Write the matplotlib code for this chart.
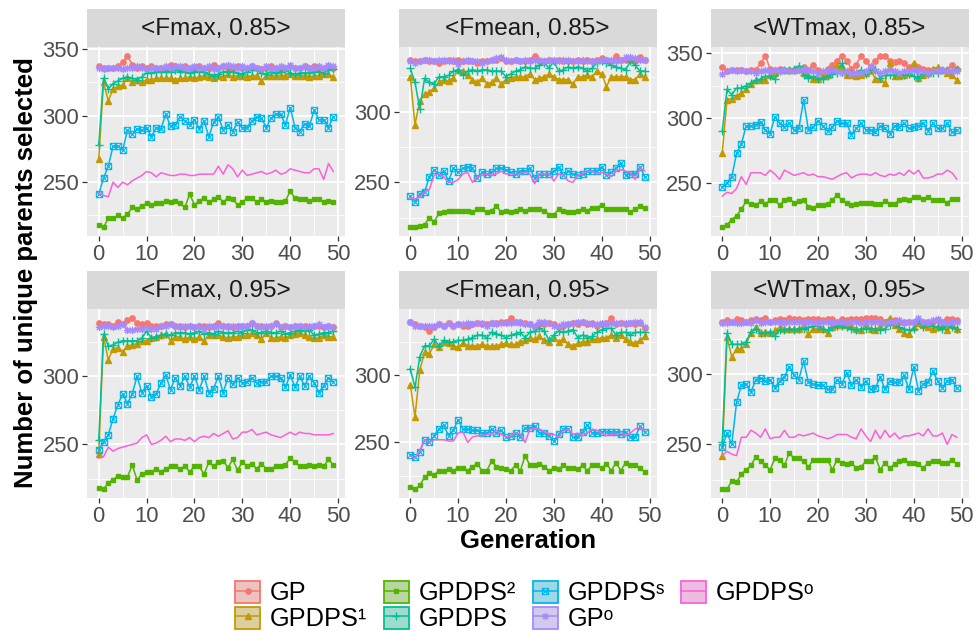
"""
plot.py
Unique parents selected per generation, six <rule, rate> settings.
"""

import numpy as np
import matplotlib
matplotlib.use('Agg')
import matplotlib.pyplot as plt
from matplotlib.path import Path
from matplotlib.patches import Patch
from matplotlib.lines import Line2D
from matplotlib.ticker import MultipleLocator
from matplotlib.colors import to_rgb

plt.rcParams['font.family'] = ['Liberation Sans', 'DejaVu Sans']

METHODS = ['GP', 'GPDPS¹', 'GPDPS²', 'GPDPS', 'GPDPSˢ', 'GPᵒ', 'GPDPSᵒ']
PANEL_TITLES = ['<Fmax, 0.85>', '<Fmean, 0.85>', '<WTmax, 0.85>',
                '<Fmax, 0.95>', '<Fmean, 0.95>', '<WTmax, 0.95>']

# ── <Fmax, 0.85> ─────────────────────────────────────────────────────────────
fmax85_gp = [337,336,336,336,337,340,345,338,336,337,336,337,336,336,336,338,337,336,337,336,336,337,336,336,338,336,337,336,336,337,336,336,337,336,335,336,337,336,336,336,337,336,336,337,336,337,336,336,337,336]
fmax85_dps1 = [267,325,311,320,322,323,328,325,327,325,327,327,328,328,328,328,327,328,328,329,328,329,330,329,328,330,329,331,329,330,330,329,330,330,326,330,330,330,330,330,331,330,330,330,329,330,330,331,331,329]
fmax85_dps2 = [218,216,223,223,225,223,226,231,230,232,234,233,234,234,236,235,236,234,231,241,233,236,238,235,237,239,235,238,237,233,235,238,238,235,237,235,236,235,235,236,243,238,237,237,236,237,237,235,236,235]
fmax85_dps = [278,328,320,324,326,328,329,328,327,329,332,332,333,333,333,333,334,333,333,332,333,333,333,331,330,331,333,333,333,332,331,333,334,334,332,331,333,332,333,334,332,331,332,332,332,333,333,332,334,335]
fmax85_dpss = [241,253,262,277,277,274,289,286,290,289,291,284,291,290,301,292,293,299,296,293,297,290,296,284,295,299,289,293,288,295,291,291,296,299,298,291,298,301,301,293,306,291,288,294,292,304,297,297,291,299]
fmax85_gpo = [336,335,336,336,336,335,336,336,337,336,335,336,336,336,337,336,337,337,336,336,337,336,336,337,335,336,337,338,337,336,337,336,337,336,335,337,336,336,337,336,338,336,336,337,336,336,337,336,338,337]
fmax85_dpso = [242,240,239,250,246,250,248,251,253,255,258,257,254,257,256,255,255,256,256,255,255,256,256,256,256,262,256,263,260,254,259,255,256,257,258,256,257,259,256,257,260,259,258,257,257,260,260,252,264,258]

# ── <Fmean, 0.85> ────────────────────────────────────────────────────────────
fmean85_gp = [337,336,336,337,336,336,335,336,337,336,337,336,336,336,335,336,336,337,337,338,336,336,337,336,336,337,340,336,336,337,336,337,336,336,336,337,336,337,336,337,338,337,336,340,337,337,337,336,339,337]
fmean85_dps1 = [325,291,308,313,314,317,321,323,322,324,330,329,326,323,321,324,320,321,324,320,323,324,325,325,325,327,323,324,325,327,325,323,323,323,320,325,325,326,325,329,327,318,325,325,325,325,323,323,327,325]
fmean85_dps2 = [218,218,219,220,225,222,228,229,230,230,230,230,230,229,231,231,229,230,233,229,230,229,230,231,230,231,231,231,230,227,227,231,230,229,229,230,231,230,232,232,234,231,231,231,231,231,229,231,233,232]
fmean85_dps = [331,321,302,324,321,320,325,325,326,329,330,326,329,330,329,330,330,329,329,329,325,327,329,330,332,331,331,333,335,331,336,329,330,332,331,332,331,329,331,335,336,335,333,332,331,330,336,333,329,329]
fmean85_dpss = [240,236,242,243,254,259,255,258,251,260,257,260,261,260,253,257,256,257,260,260,259,257,256,258,258,260,253,256,256,256,258,261,255,258,256,255,256,258,258,258,261,255,257,260,264,255,256,256,261,254]
fmean85_gpo = [336,335,336,337,337,336,337,337,336,337,334,336,337,336,336,335,336,337,338,339,337,336,337,336,337,336,337,337,336,337,337,336,337,337,336,336,337,336,336,336,337,337,337,336,337,339,339,338,337,337]
fmean85_dpso = [239,238,240,243,245,255,256,254,250,250,252,256,257,250,254,255,256,255,256,258,256,256,256,256,257,256,249,256,256,256,251,256,255,251,250,255,256,258,258,256,257,256,254,258,259,258,257,252,260,258]

# ── <WTmax, 0.85> ────────────────────────────────────────────────────────────
wtmax85_gp = [339,336,337,337,337,336,337,337,342,348,338,337,338,337,337,337,337,339,337,341,337,335,338,341,344,348,344,338,341,348,344,339,344,348,348,344,343,344,342,339,341,339,338,337,337,337,337,337,341,338]
wtmax85_dps1 = [273,314,315,317,319,322,326,329,329,329,333,335,337,337,337,337,338,335,333,330,330,332,333,337,341,339,333,333,332,333,335,337,330,330,327,342,332,332,333,335,342,331,333,335,338,339,337,335,333,329]
wtmax85_dps2 = [216,218,222,225,230,236,234,233,236,234,237,237,233,237,238,235,236,237,232,231,233,233,234,237,241,237,235,233,234,235,235,235,234,234,236,234,234,237,238,237,239,239,238,239,237,237,237,235,238,238]
wtmax85_dps = [290,322,318,323,323,325,327,329,330,332,332,330,336,337,337,338,340,333,331,332,330,330,332,334,335,342,335,335,335,337,334,337,338,331,333,333,333,334,333,334,332,331,334,334,335,335,337,337,336,338]
wtmax85_dpss = [247,250,255,273,280,294,294,295,297,291,288,301,296,293,296,291,292,314,291,293,298,294,290,293,298,296,296,287,292,296,291,291,289,294,292,288,294,293,296,292,293,294,296,290,296,292,292,296,289,291]
wtmax85_gpo = [334,336,337,336,337,336,336,335,336,337,336,337,336,337,336,336,337,337,337,336,335,336,336,337,336,335,336,334,335,335,336,340,336,335,336,337,336,335,336,336,337,336,336,335,336,336,337,336,336,336]
wtmax85_dpso = [240,243,242,246,255,249,258,258,258,256,260,257,253,260,258,256,257,258,256,257,255,255,254,253,255,257,258,254,256,257,257,256,258,256,255,257,256,258,256,260,257,260,254,254,255,257,257,260,258,253]

# ── <Fmax, 0.95> ─────────────────────────────────────────────────────────────
fmax95_gp = [339,338,338,337,340,338,341,343,339,338,339,337,337,337,338,338,337,337,336,337,336,337,337,336,337,339,337,337,336,337,337,337,339,337,337,336,337,339,336,337,336,337,337,337,336,337,337,336,337,336]
fmax95_dps1 = [243,329,312,320,321,318,322,323,324,326,326,328,329,330,331,326,329,329,327,329,327,329,326,330,330,330,329,328,329,329,330,330,332,330,327,332,328,328,329,328,330,331,332,330,329,328,328,330,329,329]
fmax95_dps2 = [218,217,222,224,227,226,226,235,224,228,230,230,232,230,232,234,234,232,234,230,234,234,228,237,234,237,238,233,239,231,237,234,236,232,236,232,232,234,234,235,240,237,234,234,235,234,235,234,239,235]
fmax95_dps = [253,331,322,323,325,326,326,326,326,328,333,328,329,330,331,330,332,332,332,331,332,333,331,332,331,333,332,332,332,333,332,334,334,332,332,333,332,332,333,331,332,333,334,333,334,330,331,332,332,333]
fmax95_dpss = [246,252,257,269,279,287,280,287,300,288,293,285,287,295,301,290,299,293,300,292,300,290,300,288,291,300,288,299,294,299,295,296,299,295,296,296,300,300,299,292,301,292,300,293,300,295,288,293,299,296]
fmax95_gpo = [336,337,337,336,337,338,334,334,335,335,336,335,335,337,337,338,337,336,337,337,336,337,335,337,336,337,337,336,337,336,337,337,339,337,336,337,337,338,336,337,336,337,337,336,337,337,338,336,337,336]
fmax95_dpso = [240,241,248,245,247,248,249,250,251,255,257,250,251,253,256,252,254,254,253,255,252,255,256,255,258,256,258,260,254,255,259,259,261,257,258,259,257,256,255,257,259,257,259,258,258,257,257,257,257,258]

# ── <Fmean, 0.95> ────────────────────────────────────────────────────────────
fmean95_gp = [340,338,337,336,333,336,338,337,339,337,338,337,337,338,339,338,338,339,339,340,340,343,340,340,339,338,336,338,338,339,338,336,337,338,339,338,340,338,339,337,338,339,343,338,339,338,339,338,339,335]
fmean95_dps1 = [293,269,304,317,316,323,321,325,324,322,321,324,322,322,322,323,322,322,322,323,324,323,323,325,326,328,327,329,326,325,328,325,327,323,322,324,325,325,327,327,328,328,330,328,330,327,325,324,326,329]
fmean95_dps2 = [217,215,218,224,227,226,229,229,230,229,231,231,229,232,234,229,229,236,232,231,230,229,233,229,240,233,233,234,232,229,231,230,233,231,231,230,233,229,233,233,231,234,229,235,229,235,233,233,231,228]
fmean95_dps = [305,291,314,322,322,327,322,326,325,325,326,326,327,328,330,330,328,332,331,330,328,330,331,332,328,332,333,335,333,326,330,333,332,333,334,328,330,328,329,332,334,335,335,330,332,332,330,332,332,332]
fmean95_dpss = [241,239,243,252,250,255,260,263,255,259,267,260,260,259,259,257,257,260,257,259,254,255,257,254,261,261,262,257,257,255,251,256,260,260,254,254,258,263,257,257,258,258,258,258,256,258,254,254,262,258]
fmean95_gpo = [340,337,337,337,337,337,338,337,339,337,338,338,339,338,339,339,337,339,338,339,339,339,340,339,338,338,337,340,340,339,337,337,338,338,339,340,340,339,338,338,339,338,339,339,339,339,339,340,340,336]
fmean95_dpso = [240,238,244,252,250,252,252,252,251,251,257,258,250,254,255,255,256,256,259,256,254,255,257,256,250,260,260,260,258,256,256,254,259,260,256,257,255,257,260,259,257,255,256,256,257,255,257,260,261,259]

# ── <WTmax, 0.95> ────────────────────────────────────────────────────────────
wtmax95_gp = [337,338,337,339,338,337,338,339,338,340,337,338,339,338,340,339,339,338,339,339,339,338,339,339,337,339,338,339,339,339,340,340,340,339,337,337,338,337,337,337,337,337,337,337,337,338,337,339,339,338]
wtmax95_dps1 = [242,326,312,318,318,321,329,333,329,330,329,331,333,332,332,332,332,334,328,332,332,332,329,333,335,335,335,334,332,331,335,332,331,334,337,340,335,332,329,328,333,336,335,333,332,333,334,331,335,332]
wtmax95_dps2 = [218,218,224,223,229,232,235,241,238,235,232,240,239,235,244,240,240,238,234,239,239,239,239,232,239,237,236,237,233,234,238,238,241,232,237,233,236,238,239,237,237,236,233,237,238,238,237,237,239,236]
wtmax95_dps = [252,329,321,321,321,323,330,332,329,329,330,327,331,331,332,331,332,332,333,334,334,332,331,333,334,334,333,332,331,332,332,332,332,331,332,335,336,333,332,331,332,338,333,336,334,333,332,334,333,332]
wtmax95_dpss = [248,258,250,280,292,293,287,296,297,295,296,290,295,298,305,299,296,309,294,293,292,292,289,289,296,293,301,292,296,291,295,289,290,298,289,295,294,294,299,289,305,288,293,294,302,295,290,295,296,290]
wtmax95_gpo = [336,336,337,336,336,337,336,338,336,337,337,337,337,336,337,337,337,336,337,337,336,337,337,336,337,337,336,337,337,336,337,337,337,337,336,337,337,338,336,337,337,340,337,337,338,339,337,336,337,337]
wtmax95_dpso = [242,245,243,242,255,255,260,258,255,261,254,255,255,260,255,255,257,256,257,258,256,255,254,255,257,257,257,255,254,261,256,252,260,254,260,255,258,254,256,256,257,258,256,261,256,256,258,250,257,255]

PANELS = [
    [fmax85_gp, fmax85_dps1, fmax85_dps2, fmax85_dps, fmax85_dpss, fmax85_gpo, fmax85_dpso],
    [fmean85_gp, fmean85_dps1, fmean85_dps2, fmean85_dps, fmean85_dpss, fmean85_gpo, fmean85_dpso],
    [wtmax85_gp, wtmax85_dps1, wtmax85_dps2, wtmax85_dps, wtmax85_dpss, wtmax85_gpo, wtmax85_dpso],
    [fmax95_gp, fmax95_dps1, fmax95_dps2, fmax95_dps, fmax95_dpss, fmax95_gpo, fmax95_dpso],
    [fmean95_gp, fmean95_dps1, fmean95_dps2, fmean95_dps, fmean95_dpss, fmean95_gpo, fmean95_dpso],
    [wtmax95_gp, wtmax95_dps1, wtmax95_dps2, wtmax95_dps, wtmax95_dpss, wtmax95_gpo, wtmax95_dpso],
]

# ggplot hue palette, 7 levels
COLORS = ['#F8766D', '#C49A00', '#53B400', '#00C094', '#00B6EB', '#A58AFF', '#FB61D7']

# boxed x (ggplot shape 7)
_M, _L, _C = Path.MOVETO, Path.LINETO, Path.CLOSEPOLY
BOX_X = Path([(-1, -1), (1, -1), (1, 1), (-1, 1), (-1, -1), (-1, -1), (1, 1), (-1, 1), (1, -1)],
             [_M, _L, _L, _L, _C, _M, _L, _M, _L])

MARKERS = [
    dict(marker='o', markersize=3.8),
    dict(marker='^', markersize=4.0),
    dict(marker='s', markersize=3.5),
    dict(marker='+', markersize=5.2, markeredgewidth=1.0),
    dict(marker=BOX_X, markersize=4.5, markeredgewidth=0.8, fillstyle='none'),
    dict(marker=(8, 2, 0), markersize=5.2, markeredgewidth=0.8),
    dict(marker=None),
]

W, H = 976, 631
fig = plt.figure(figsize=(W / 100, H / 100), dpi=100)

col_left = [87, 398.5, 710.5]
row_top = [47, 309]
pw, ph, sh = 258, 189, 38

for i, (title, series) in enumerate(zip(PANEL_TITLES, PANELS)):
    r, c = divmod(i, 3)
    x0, y0 = col_left[c], row_top[r]
    ax = fig.add_axes([x0 / W, 1 - (y0 + ph) / H, pw / W, ph / H])
    strip = fig.add_axes([x0 / W, 1 - y0 / H, pw / W, sh / H])
    strip.set_facecolor('#D9D9D9')
    strip.set_xticks([])
    strip.set_yticks([])
    for s in strip.spines.values():
        s.set_visible(False)
    strip.text(0.5, 0.47, title, ha='center', va='center', fontsize=17.5, color='#1A1A1A',
               transform=strip.transAxes)

    ax.set_facecolor('#EBEBEB')
    for vals, color, mk in zip(series, COLORS, MARKERS):
        gens = np.arange(len(vals))
        ax.plot(gens, vals, color=color, linewidth=1.1, zorder=3, **mk)

    ax.margins(x=0.05, y=0.05)
    ax.xaxis.set_major_locator(MultipleLocator(10))
    ax.xaxis.set_minor_locator(MultipleLocator(5))
    ax.yaxis.set_major_locator(MultipleLocator(50))
    ax.yaxis.set_minor_locator(MultipleLocator(25))
    ax.grid(which='major', color='white', linewidth=1.3, zorder=0)
    ax.grid(which='minor', color='white', linewidth=0.6, zorder=0)
    ax.set_axisbelow(True)
    for s in ax.spines.values():
        s.set_visible(False)
    ax.tick_params(which='major', length=3.5, width=0.9, color='#333333',
                   labelsize=15.8, labelcolor='#4D4D4D', pad=2)
    ax.tick_params(which='minor', length=0)

fig.text(26 / W, 1 - 273 / H, 'Number of unique parents selected', rotation=90,
         ha='center', va='center', fontsize=18.5, fontweight='bold')
fig.text(528 / W, 1 - 541 / H, 'Generation', ha='center', va='center',
         fontsize=18.5, fontweight='bold')

# legend keys: translucent fill over the grey key background
key_bg = np.array(to_rgb('#E5E5E5'))
handles = []
for color, mk in zip(COLORS, MARKERS):
    face = 0.3 * np.array(to_rgb(color)) + 0.7 * key_bg
    box = Patch(facecolor=face, edgecolor=color, linewidth=1.3)
    line = Line2D([], [], color=color, linewidth=1.1, **mk)
    handles.append((box, line))

fig.legend(handles, METHODS, loc='center', bbox_to_anchor=(525 / W, 1 - 606 / H), ncol=4,
           frameon=False, fontsize=18.3, handlelength=0.98, handleheight=0.95,
           handletextpad=0.39, columnspacing=0.65, labelspacing=0.05, borderpad=0)

fig.savefig('out.png', dpi=100)
